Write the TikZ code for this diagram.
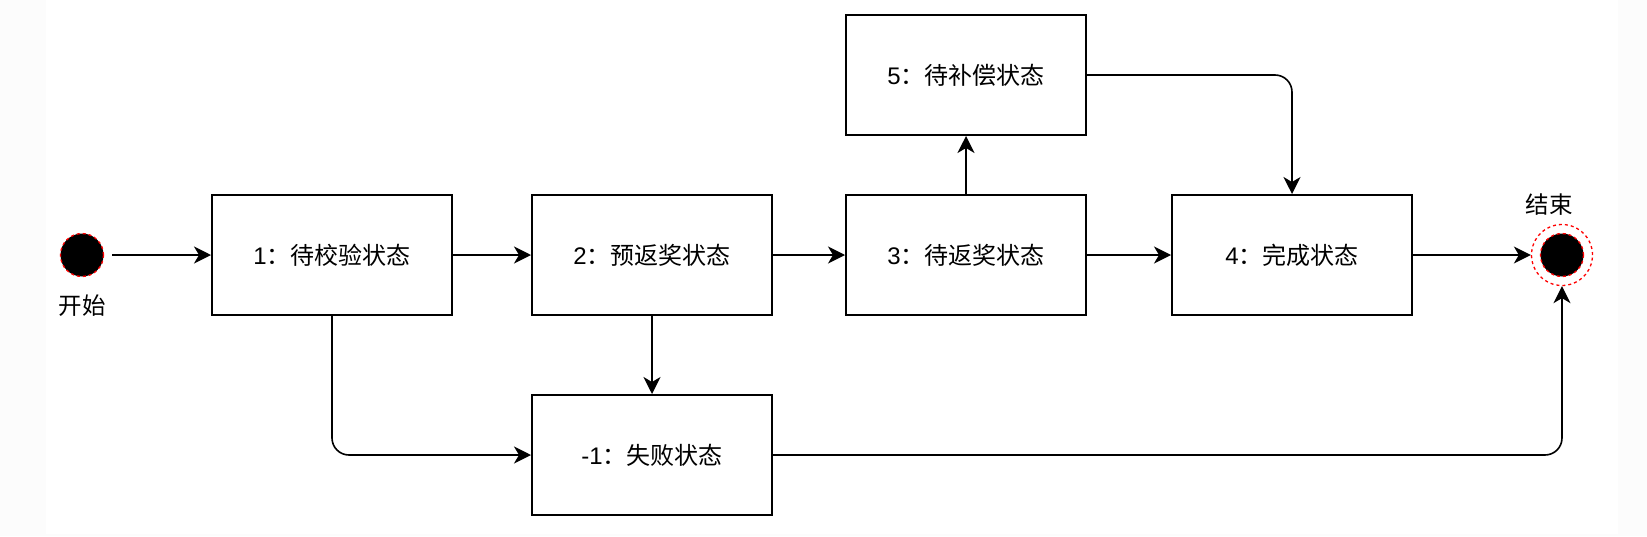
\documentclass[tikz,border=0pt]{standalone}
\usepackage{fontspec}
\setmainfont{Noto Sans CJK SC}
\newfontfamily\latinfont{Liberation Sans}
\usetikzlibrary{arrows.meta,calc}
\begin{document}
\begin{tikzpicture}[x=1pt,y=-1pt,
  state/.style={draw=black, line width=2pt, fill=white, minimum width=240pt, minimum height=120pt, inner sep=0pt, font=\fontsize{24}{27}\selectfont},
  conn/.style={line width=1.6pt, -{Stealth[length=17pt,width=17pt,inset=5pt]}},
  lbl/.style={font=\fontsize{23.5}{26}\selectfont, inner sep=0pt},
  redash/.style={draw=red, line width=1.3pt, dash pattern=on 3pt off 3pt}]
\useasboundingbox (0,0) rectangle (1647,536);
\fill[black!1.2] (0,0) rectangle (1647,536);
\fill[white] (46,0) rectangle (1618,534);
% states
\node[state] (b1) at (332,255) {{\latinfont 1}：待校验状态};
\node[state] (b2) at (652,255) {{\latinfont 2}：预返奖状态};
\node[state] (b3) at (966,255) {{\latinfont 3}：待返奖状态};
\node[state] (b4) at (1292,255) {{\latinfont 4}：完成状态};
\node[state] (b5) at (966,75) {{\latinfont 5}：待补偿状态};
\node[state] (bm1) at (652,455) {{\latinfont -1}：失败状态};
% start / end
\node[circle, fill=black, redash, minimum size=43pt, inner sep=0pt] (start) at (82,255) {};
\node[lbl] (startlbl) at (82,306) {开始};
\node[circle, redash, minimum size=61pt, inner sep=0pt] (endo) at (1562,255) {};
\node[circle, fill=black, redash, minimum size=43pt, inner sep=0pt] (endi) at (1562,255) {};
\node[lbl] (endlbl) at (1549,205) {结束};
% connectors
\coordinate (s0) at ($(start.east)+(8,0)$);
\draw[conn] (s0) -- (b1.west);
\draw[conn] (b1.east) -- (b2.west);
\draw[conn] (b2.east) -- (b3.west);
\draw[conn] (b3.east) -- (b4.west);
\draw[conn] (b4.east) -- (endo.west);
\draw[conn] (b3.north) -- (b5.south);
\draw[conn, rounded corners=17pt] (b5.east) -| (b4.north);
\draw[conn] (b2.south) -- (bm1.north);
\draw[conn, rounded corners=17pt] (b1.south) |- (bm1.west);
\draw[conn, rounded corners=17pt] (bm1.east) -| (endo.south);
\end{tikzpicture}
\end{document}
